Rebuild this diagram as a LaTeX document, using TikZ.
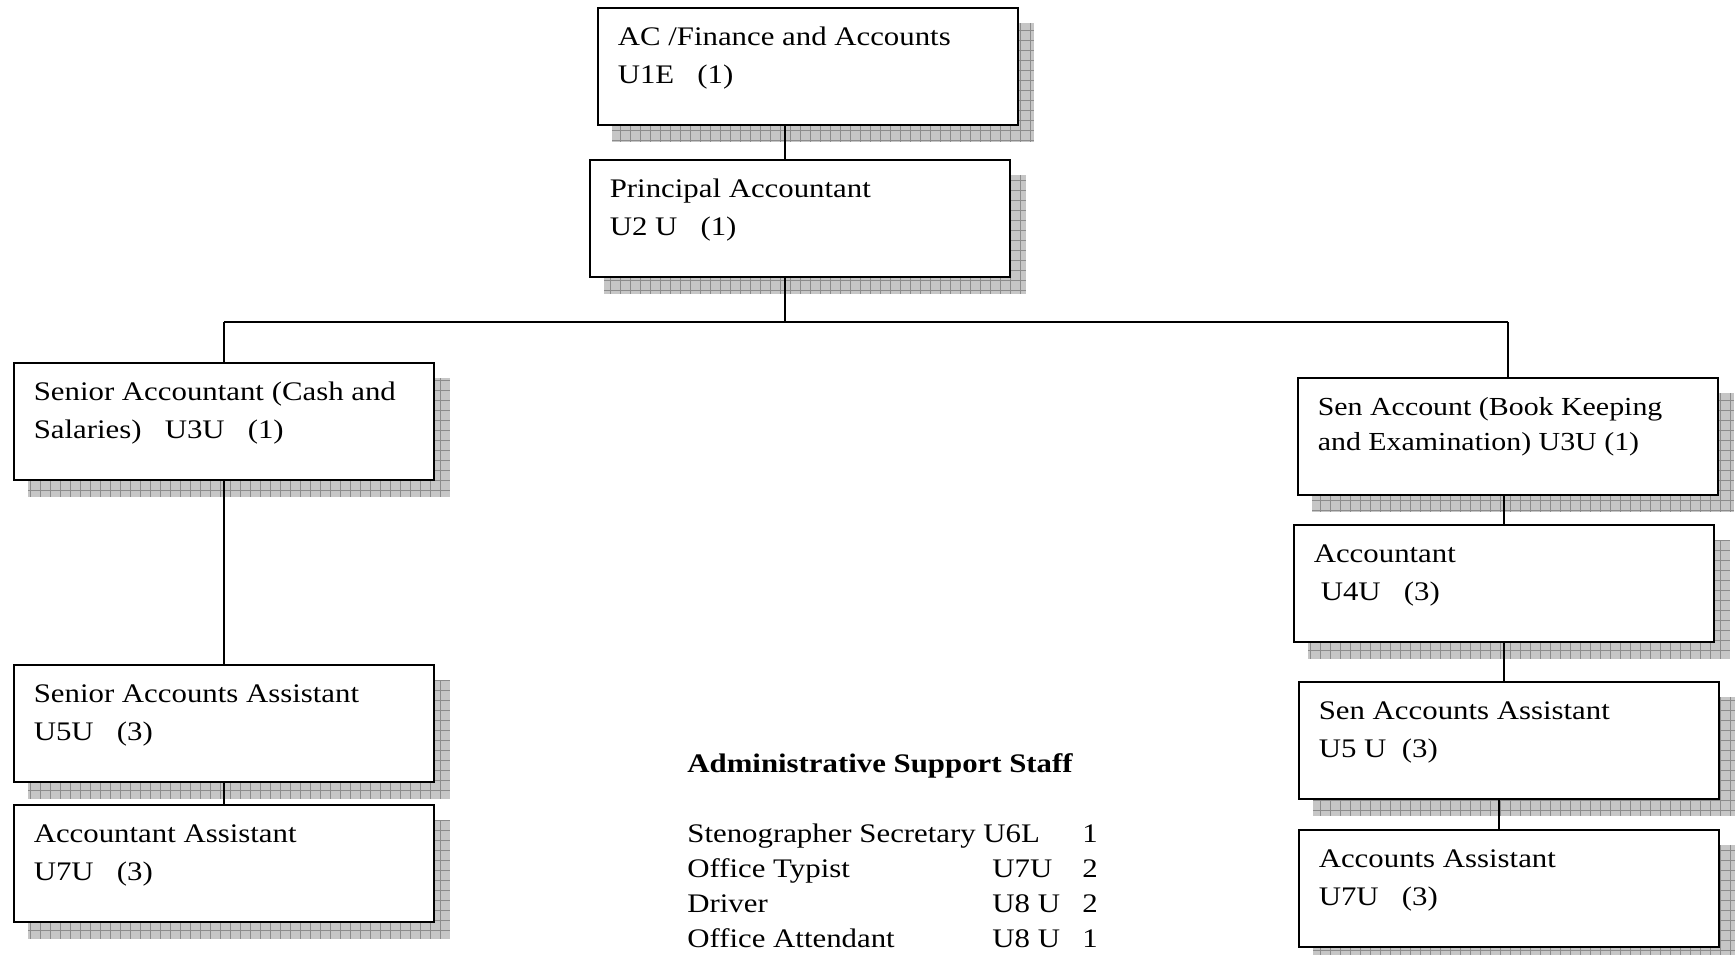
\documentclass[tikz,border=0pt]{standalone}
\usepackage{fontspec}
\setmainfont{Liberation Serif}[FakeStretch=1.15]
\usetikzlibrary{backgrounds}
\tikzstyle{office}=[draw, fill=white, line width=0.8pt, inner sep=0pt, anchor=north west]
\tikzstyle{link}=[draw, line width=0.7pt]
\newcommand{\office}{\node[office]}
\newcommand{\job}[2]{\parbox[t][58.5pt][t]{210pt}{\fontsize{13.4pt}{19pt}\selectfont
  \leftskip=10pt\rule{0pt}{19pt}#1\par #2}}
\newcommand{\dropgrid}[1]{%
  \fill[gray!45] ([shift={(7.5pt,-8pt)}]#1.south west) rectangle ([shift={(7.5pt,-8pt)}]#1.north east);
  \draw[gray!90, line width=0.3pt, step=5pt] ([shift={(7.5pt,-8pt)}]#1.south west) grid ([shift={(7.5pt,-8pt)}]#1.north east);}

\begin{document}
\begin{tikzpicture}[x=0.5pt, y=-0.5pt]
\useasboundingbox (0,0) rectangle (1736,954);
\office (a) at (597,7) {\job{AC /Finance and Accounts}{U1E~~~(1)}};
\office (b) at (589,159) {\job{Principal Accountant}{U2 U~~~(1)}};
\office (c) at (13,362) {\job{Senior Accountant (Cash and}{Salaries)~~~U3U~~~(1)}};
\office (d) at (1297,377) {\job{\fontsize{13pt}{17.5pt}\selectfont Sen Account (Book Keeping}{and Examination) U3U (1)}};
\office (e) at (1293,524) {\job{Accountant}{\hspace*{3.5pt}U4U~~~(3)}};
\office (f) at (13,664) {\job{Senior Accounts Assistant}{U5U~~~(3)}};
\office (g) at (13,804) {\job{Accountant Assistant}{U7U~~~(3)}};
\office (h) at (1298,681) {\job{Sen Accounts Assistant}{U5 U~~(3)}};
\office (i) at (1298,829) {\job{Accounts Assistant}{U7U~~~(3)}};
\coordinate (bus) at (785,322);

% support staff
\node[anchor=base west, inner sep=0pt, font=\fontsize{13.4pt}{19pt}\selectfont\bfseries]
  (staff) at (687,772) {Administrative Support Staff};
\node[anchor=base west, inner sep=0pt, font=\fontsize{13.4pt}{17.65pt}\selectfont]
  (list) at (687,842) {\begin{tabular}[t]{@{}p{148pt}@{}p{49.5pt}@{}r@{}}
  Stenographer Secretary & U6L & 1\\
  Office Typist & \hspace*{4.5pt}U7U & 2\\
  Driver & \hspace*{4.5pt}U8 U & 2\\
  Office Attendant & \hspace*{4.5pt}U8 U & 1
  \end{tabular}};

\begin{scope}[on background layer]
\foreach \n in {a,b,c,d,e,f,g,h,i} {\dropgrid{\n}}
\end{scope}

\path[link]
(a.south -| bus) -- (b.north -| bus)
(b.south -| bus) -- (bus)
(c.north |- bus) -- (d.north |- bus)
(c.north |- bus) -- (c.north)
(d.north |- bus) -- (d.north)
(c.south) -- (f.north)
(f.south) -- (g.north)
(e.north |- d.south) -- (e.north)
(e.south) -- (e.south |- h.north)
([xshift=-5pt]h.south) -- ([xshift=-5pt]h.south |- i.north)
;
\end{tikzpicture}
\end{document}
